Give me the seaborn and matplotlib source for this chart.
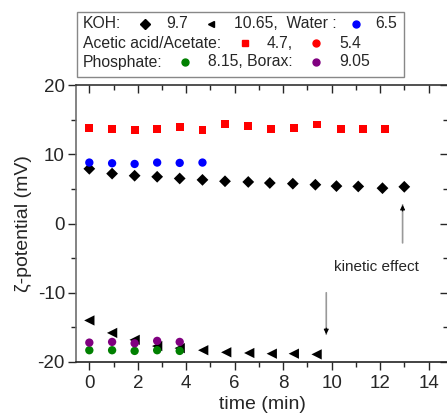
import matplotlib
matplotlib.use("Agg")
import matplotlib.pyplot as plt
from matplotlib.lines import Line2D
from matplotlib.patches import Rectangle
import seaborn as sns
import pandas as pd

# ---- data ----
t_koh97 = [0, 0.94, 1.87, 2.8, 3.73, 4.67, 5.6, 6.56, 7.45, 8.4, 9.33, 10.2, 11.1, 12.1, 13.0]
z_koh97 = [7.9, 7.2, 6.9, 6.75, 6.5, 6.3, 6.1, 6.0, 5.85, 5.75, 5.6, 5.4, 5.35, 5.1, 5.3]

t_koh1065 = [0, 0.94, 1.87, 2.8, 3.73, 4.7, 5.65, 6.6, 7.53, 8.44, 9.38]
z_koh1065 = [-14.0, -15.8, -16.8, -17.7, -18.0, -18.3, -18.6, -18.7, -18.8, -18.8, -18.9]

t_water = [0, 0.94, 1.87, 2.8, 3.73, 4.67]
z_water = [8.8, 8.7, 8.6, 8.8, 8.75, 8.8]

t_acet47 = [0, 0.94, 1.87, 2.8, 3.73, 4.67, 5.6, 6.56, 7.5, 8.44, 9.4, 10.4, 11.3, 12.2]
z_acet47 = [13.8, 13.6, 13.5, 13.7, 13.9, 13.5, 14.4, 14.1, 13.6, 13.8, 14.3, 13.7, 13.7, 13.7]

t_phos = [0, 0.94, 1.87, 2.8, 3.73]
z_phos = [-18.3, -18.3, -18.4, -18.3, -18.4]

t_borax = [0, 0.94, 1.87, 2.8, 3.73]
z_borax = [-17.2, -17.1, -17.3, -16.95, -17.1]

x_ticks = [0, 2, 4, 6, 8, 10, 12, 14]
y_ticks = [-20, -10, 0, 10, 20]

sns.set_style("ticks")
plt.rcParams["font.family"] = ["Liberation Sans", "DejaVu Sans"]
plt.rcParams["axes.unicode_minus"] = False

W, H = 447, 416
fig = plt.figure(figsize=(W / 100, H / 100), dpi=100)
ax = fig.add_axes([76 / W, 1 - 362 / H, (447 - 76) / W + 0.002, (362 - 85) / H])

series = [
    (t_koh97, z_koh97, "D", "black", 36),
    (t_koh1065, z_koh1065, "<", "black", 55),
    (t_water, z_water, "o", "#0000FF", 36),
    (t_acet47, z_acet47, "s", "#FF0000", 32),
    (t_phos, z_phos, "o", "#008000", 36),
    (t_borax, z_borax, "o", "#800080", 36),
]
for t, z, m, c, s in series:
    df = pd.DataFrame({"t": t, "z": z})
    sns.scatterplot(data=df, x="t", y="z", marker=m, color=c, s=s,
                    edgecolor="none", linewidth=0, ax=ax, legend=False,
                    zorder=3, clip_on=False)

ax.set_xlim(-0.55, 14.8)
ax.set_ylim(-20, 20)
ax.set_xticks(x_ticks)
ax.set_yticks(y_ticks)
ax.set_xticks([1, 3, 5, 7, 9, 11, 13], minor=True)
ax.set_yticks([-15, -5, 5, 15], minor=True)

for side in ["top", "right", "bottom", "left"]:
    ax.spines[side].set_visible(True)
    ax.spines[side].set_linewidth(1.2)
ax.spines["left"].set_color("#6e6e6e")
ax.spines["top"].set_color("#333333")
ax.spines["bottom"].set_color("#222222")
ax.spines["right"].set_color("#bbbbbb")

ax.tick_params(axis="x", which="major", direction="out", length=6, width=1,
               labelsize=13.5, pad=3.5, top=True, bottom=True)
ax.tick_params(axis="x", which="minor", direction="out", length=3.5, width=1,
               top=True, bottom=True)
ax.tick_params(axis="y", which="major", direction="out", length=6, width=1,
               labelsize=13.5, pad=2, right=True, left=True)
ax.tick_params(axis="y", which="minor", direction="out", length=3.5, width=1,
               right=True, left=True)
for tl in ax.xaxis.get_major_ticks() + ax.xaxis.get_minor_ticks():
    tl.tick2line.set_marker(3)  # inward for top
for tl in ax.yaxis.get_major_ticks() + ax.yaxis.get_minor_ticks():
    tl.tick2line.set_marker(0)  # inward for right
    tl.tick2line.set_color("#bbbbbb")

ax.set_xlabel("time (min)", fontsize=14, labelpad=3)
ax.set_ylabel("ζ-potential (mV)", fontsize=14, labelpad=4)

# annotations: gray shaft with black head
for xa, y0, y1 in [(12.93, -2.8, 2.7), (9.78, -10.0, -16.0)]:
    ax.annotate("", xy=(xa, y1), xytext=(xa, y0),
                arrowprops=dict(arrowstyle="-", color="#999999", lw=1.2,
                                shrinkA=0, shrinkB=0))
    ax.annotate("", xy=(xa, y1), xytext=(xa, y1 - 0.9 * (1 if y1 > y0 else -1)),
                arrowprops=dict(arrowstyle="-|>", color="black", lw=0.8,
                                mutation_scale=7, shrinkA=0, shrinkB=0))
ax.text(10.08, -6.3, "kinetic effect", fontsize=11, ha="left", va="center")

# custom legend box (figure pixel coordinates)
def fx(px):
    return px / W

def fy(py):
    return 1 - py / H

fig.add_artist(Rectangle((fx(77), fy(77)), (404 - 77) / W, (77 - 12) / H,
                         transform=fig.transFigure, facecolor="white",
                         edgecolor="#888888", lw=1.0))
fs = 11.3
rows = [
    (23.5, [("t", 82.7, "KOH:"), ("m", 145, "D", "black"), ("t", 166, "9.7"),
            ("m", 211, "<", "black"), ("t", 234, "10.65,  Water :"),
            ("m", 356, "o", "#0000FF"), ("t", 375, "6.5")]),
    (43, [("t", 82.7, "Acetic acid/Acetate:"), ("m", 245, "s", "#FF0000"),
          ("t", 267, "4.7,"), ("m", 316, "o", "#FF0000"), ("t", 339, "5.4")]),
    (62, [("t", 82.7, "Phosphate:"), ("m", 185, "o", "#008000"),
          ("t", 207.5, "8.15, Borax:"), ("m", 316, "o", "#800080"),
          ("t", 339, "9.05")]),
]
for yy, items in rows:
    for it in items:
        if it[0] == "t":
            fig.text(fx(it[1]), fy(yy), it[2], fontsize=fs, ha="left", va="center")
        else:
            fig.add_artist(Line2D([fx(it[1])], [fy(yy)], marker=it[2],
                                  color=it[3], markersize=5, linestyle="none",
                                  transform=fig.transFigure))

fig.savefig("out.png", dpi=100)
